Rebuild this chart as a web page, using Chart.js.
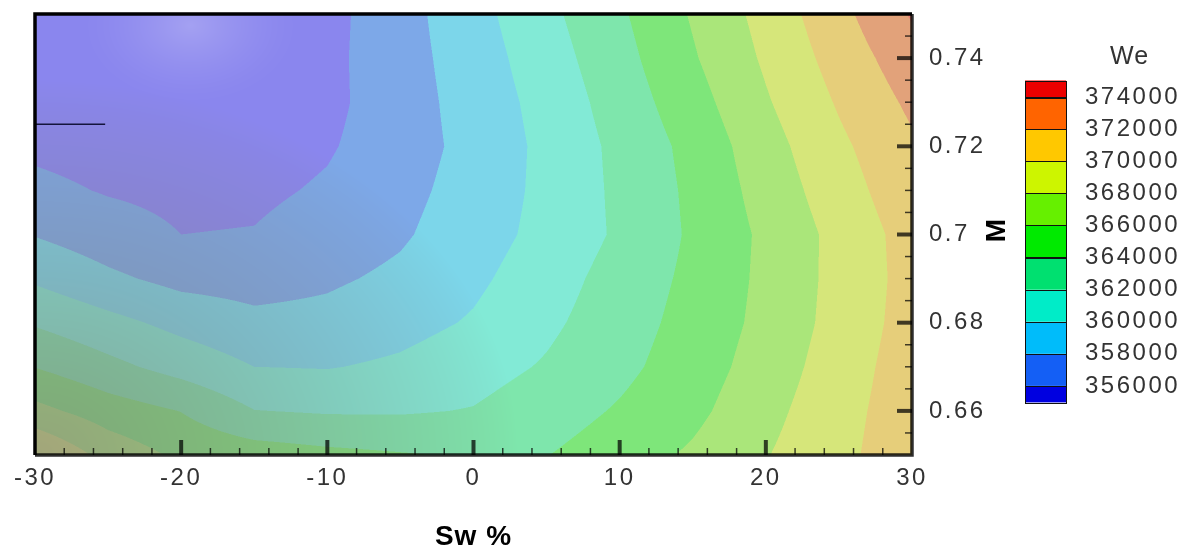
<!DOCTYPE html>
<html>
<head>
<meta charset="utf-8">
<script src="https://cdn.jsdelivr.net/npm/chart.js@4"></script>
<style>
  html, body { margin: 0; padding: 0; background: #fff; }
  canvas { display: block; }
</style>
</head>
<body>
<canvas id="weChart" width="1189" height="552"></canvas>
<script>
// grid columns (Sw %) and rows (M)
const swValues = [-30, -25, -20, -15, -10, -5, 0, 5, 10, 15, 20, 25, 30];
const mValues = [0.65, 0.66, 0.67, 0.68, 0.69, 0.70, 0.71, 0.72, 0.73, 0.74, 0.75];

// We on each M row, one value per Sw column
const weM065 = [370200, 367300, 365600, 365000, 364500, 364150, 363800, 363950, 365000, 366300, 367900, 369500, 371200];
const weM066 = [366600, 365000, 363950, 362050, 361800, 361800, 362100, 363100, 364200, 365500, 367400, 369300, 371100];
const weM067 = [363950, 362550, 361250, 360000, 359900, 360350, 361200, 362200, 363500, 365000, 366900, 369000, 371000];
const weM068 = [361800, 360600, 359400, 358500, 358600, 359300, 360200, 361600, 363100, 364700, 366550, 368700, 370800];
const weM069 = [359700, 358400, 357400, 357200, 357700, 358400, 359600, 361100, 362800, 364450, 366450, 368600, 370700];
const weM070 = [357900, 356900, 356000, 356100, 356900, 357750, 359100, 360600, 362300, 364300, 366400, 368600, 370800];
const weM071 = [356500, 355850, 355500, 355600, 356250, 357400, 358800, 360500, 362400, 364400, 366800, 369100, 371300];
const weM072 = [355600, 355200, 355000, 355100, 355800, 357100, 358600, 360500, 362500, 364600, 367200, 369600, 371700];
const weM073 = [355400, 355000, 354800, 355000, 355500, 357100, 358800, 360700, 362900, 365200, 367800, 370200, 372400];
const weM074 = [355100, 354700, 354500, 354800, 355500, 357200, 359000, 361100, 363300, 365800, 368300, 370800, 373200];
const weM075 = [354900, 354500, 354300, 354600, 355400, 357250, 359300, 361500, 363700, 366200, 368700, 371400, 374200];
const weRows = [weM065, weM066, weM067, weM068, weM069, weM070, weM071, weM072, weM073, weM074, weM075];

// contour levels
const levels = [356000, 358000, 360000, 362000, 364000, 366000, 368000, 370000, 372000, 374000];

// axis ticks
const xTicks = [-30, -20, -10, 0, 10, 20, 30];
const yTicks = [0.66, 0.68, 0.70, 0.72, 0.74];

// short marker segment at the left edge
const segSw = [-30, -25.2];
const segM = [0.725, 0.725];

// band colours, lowest band first
const bandFill = [
  [138, 134, 238], [125, 168, 232], [124, 214, 234], [130, 234, 214], [126, 230, 172],
  [126, 230, 122], [170, 230, 122], [214, 230, 122], [230, 206, 122], [226, 162, 122], [232, 128, 118]
];
const barColors = [
  '#0000e0', '#145ff5', '#00bcfa', '#00ecc8', '#00e070',
  '#00ea00', '#66f000', '#cdf500', '#ffc800', '#ff6400', '#ec0000'
];
const shadeGrey = [128, 126, 122];

const FONT = "'Liberation Sans Narrow', 'Liberation Sans', Arial, sans-serif";
const TEXT = '#333333';

function weAt(sw, m) {
  let fx = (sw - swValues[0]) / (swValues[1] - swValues[0]);
  let fy = (m - mValues[0]) / (mValues[1] - mValues[0]);
  fx = Math.min(Math.max(fx, 0), swValues.length - 1.000001);
  fy = Math.min(Math.max(fy, 0), mValues.length - 1.000001);
  const i = Math.floor(fx), j = Math.floor(fy);
  const tx = fx - i, ty = fy - j;
  const r0 = weRows[j], r1 = weRows[j + 1];
  const a = r0[i] + (r0[i + 1] - r0[i]) * tx;
  const b = r1[i] + (r1[i + 1] - r1[i]) * tx;
  return a + (b - a) * ty;
}

function bandOf(v) {
  let k = 0;
  while (k < levels.length && v >= levels[k]) k++;
  return k;
}

// filled contour bands, 2x2 supersampled, with a little lighting
const contourFill = {
  id: 'contourFill',
  beforeDraw(chart) {
    chart.ctx.letterSpacing = '2.5px';
  },
  beforeDatasetsDraw(chart) {
    const { ctx, chartArea: a, scales: { x, y } } = chart;
    const w = Math.round(a.right - a.left), h = Math.round(a.bottom - a.top);
    const off = document.createElement('canvas');
    off.width = w; off.height = h;
    const octx = off.getContext('2d');
    const img = octx.createImageData(w, h);
    const sub = [0.25, 0.75];
    for (let py = 0; py < h; py++) {
      for (let px = 0; px < w; px++) {
        let r = 0, g = 0, b = 0;
        for (const sy of sub) {
          const m = y.getValueForPixel(a.top + py + sy);
          for (const sx of sub) {
            const c = bandFill[bandOf(weAt(x.getValueForPixel(a.left + px + sx), m))];
            r += c[0]; g += c[1]; b += c[2];
          }
        }
        r /= 4; g /= 4; b /= 4;
        const u = px / w, t = py / h;
        const d = Math.hypot(u / 0.55, (1 - t) / 0.85);
        const grey = 0.62 * Math.pow(Math.max(0, 1 - d), 0.8);
        r += (shadeGrey[0] - r) * grey;
        g += (shadeGrey[1] - g) * grey;
        b += (shadeGrey[2] - b) * grey;
        const hd = Math.hypot((a.left + px - 190) / 110, (a.top + py - 25) / 80);
        const hi = 0.22 * Math.pow(Math.max(0, 1 - hd), 1.5);
        r += (255 - r) * hi; g += (255 - g) * hi; b += (255 - b) * hi;
        const o = (py * w + px) * 4;
        img.data[o] = r; img.data[o + 1] = g; img.data[o + 2] = b; img.data[o + 3] = 255;
      }
    }
    octx.putImageData(img, 0, 0);
    ctx.drawImage(off, a.left, a.top);
  }
};

// inward ticks and the frame
const frameTicks = {
  id: 'frameTicks',
  afterDatasetsDraw(chart) {
    const { ctx, chartArea: a, scales: { x, y } } = chart;
    ctx.save();
    ctx.strokeStyle = 'rgba(0,0,0,0.72)';
    for (let v = -28; v < 30; v += 2) {
      const major = xTicks.includes(v);
      const px = x.getPixelForValue(v);
      ctx.lineWidth = major ? 4 : 1.5;
      ctx.beginPath();
      ctx.moveTo(px, a.bottom);
      ctx.lineTo(px, a.bottom - (major ? 15 : 7));
      ctx.stroke();
    }
    for (let k = 1; k < 20; k++) {
      const major = k % 4 === 2;
      const py = y.getPixelForValue(0.65 + k * 0.005);
      ctx.lineWidth = major ? 4 : 1.5;
      ctx.beginPath();
      ctx.moveTo(a.right, py);
      ctx.lineTo(a.right - (major ? 15 : 7), py);
      ctx.stroke();
    }
    ctx.lineWidth = 3.5;
    ctx.strokeStyle = '#000';
    ctx.beginPath();
    ctx.moveTo(a.left, a.bottom);
    ctx.lineTo(a.left, a.top);
    ctx.lineTo(a.right, a.top);
    ctx.stroke();
    ctx.strokeStyle = 'rgba(0,0,0,0.82)';
    ctx.beginPath();
    ctx.moveTo(a.right, a.top);
    ctx.lineTo(a.right, a.bottom);
    ctx.lineTo(a.left, a.bottom);
    ctx.stroke();
    ctx.restore();
  },
  afterDraw(chart) {
    const { ctx, chartArea: a } = chart;
    ctx.save();
    // axis titles
    ctx.letterSpacing = '1px';
    ctx.fillStyle = '#000';
    ctx.font = `bold 28px ${FONT}`;
    ctx.textAlign = 'center';
    ctx.textBaseline = 'middle';
    ctx.fillText('Sw %', (a.left + a.right) / 2, 537);
    ctx.save();
    ctx.translate(997, 230);
    ctx.rotate(-Math.PI / 2);
    ctx.fillText('M', 0, 0);
    ctx.restore();

    // colour bar
    const barLeft = 1025, barW = 41, step = 32.1, topLevel = 97, cap = 16.5;
    const n = levels.length;
    for (let k = 0; k <= n; k++) {
      // k = band index, highest band on top
      let y0, y1;
      if (k === n) { y0 = topLevel - cap; y1 = topLevel; }
      else if (k === 0) { y0 = topLevel + (n - 1) * step; y1 = y0 + cap; }
      else { y0 = topLevel + (n - 1 - k) * step; y1 = y0 + step; }
      ctx.fillStyle = barColors[k];
      ctx.fillRect(barLeft, y0, barW, y1 - y0);
      ctx.strokeStyle = '#111';
      ctx.lineWidth = 1;
      ctx.strokeRect(barLeft + 0.5, Math.round(y0) + 0.5, barW, Math.round(y1 - y0));
    }
    ctx.letterSpacing = '2.5px';
    ctx.fillStyle = TEXT;
    ctx.font = `24px ${FONT}`;
    ctx.textAlign = 'left';
    levels.forEach((lv, i) => {
      ctx.fillText(String(lv), 1085, topLevel + (n - 1 - i) * step);
    });
    ctx.letterSpacing = '1px';
    ctx.font = `25px ${FONT}`;
    ctx.fillText('We', 1110, 57);
    ctx.restore();
  }
};

const ctx = document.getElementById('weChart').getContext('2d');
const weChart = new Chart(ctx, {
  type: 'scatter',
  data: {
    datasets: [{
      data: segSw.map((sw, i) => ({ x: sw, y: segM[i] })),
      showLine: true,
      borderColor: '#14143c',
      borderWidth: 1.5,
      pointRadius: 0
    }]
  },
  options: {
    responsive: false,
    animation: false,
    layout: { padding: { left: 35, top: 14, right: 0, bottom: 0 } },
    plugins: { legend: { display: false }, tooltip: { enabled: false } },
    scales: {
      x: {
        type: 'linear',
        min: -30,
        max: 30,
        afterBuildTicks: s => { s.ticks = xTicks.map(v => ({ value: v })); },
        afterFit: s => { s.height = 97; s.paddingLeft = 0; s.paddingRight = 0; },
        grid: { display: false, drawTicks: false },
        border: { display: false },
        ticks: { font: { family: FONT, size: 24 }, color: TEXT, padding: 9, maxRotation: 0, autoSkip: false }
      },
      y: {
        type: 'linear',
        position: 'right',
        min: 0.65,
        max: 0.75,
        afterBuildTicks: s => { s.ticks = yTicks.map(v => ({ value: v })); },
        afterFit: s => { s.width = 277; s.paddingTop = 0; s.paddingBottom = 0; },
        grid: { display: false, drawTicks: false },
        border: { display: false },
        ticks: {
          font: { family: FONT, size: 24 },
          color: TEXT,
          padding: 17,
          autoSkip: false,
          callback: v => String(+v.toFixed(2))
        }
      }
    }
  },
  plugins: [contourFill, frameTicks]
});
</script>
</body>
</html>
